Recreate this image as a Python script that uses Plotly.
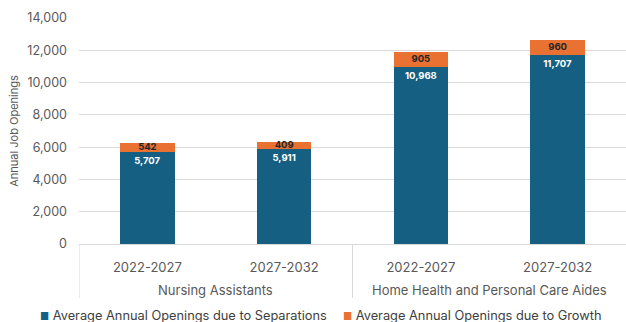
import plotly.graph_objects as go

groups = ["Nursing Assistants", "Nursing Assistants",
          "Home Health and Personal Care Aides", "Home Health and Personal Care Aides"]
periods = ["2022-2027", "2027-2032", "2022-2027", "2027-2032"]
separations = [5707, 5911, 10968, 11707]
growth = [542, 409, 905, 960]
series_names = ["Average Annual Openings due to Separations",
                "Average Annual Openings due to Growth"]

blue = "#156082"
orange = "#E97132"
font_family = "Inter, Lato, sans-serif"
idx = list(range(len(periods)))

fig = go.Figure()
fig.add_trace(go.Bar(
    x=idx, y=separations, name=series_names[0],
    marker=dict(color=blue, line=dict(width=0)),
    text=[f"{v:,}" for v in separations], textposition="inside",
    insidetextanchor="end", constraintext="none",
    textfont=dict(color="white", size=9.5, family=font_family, weight="bold"),
    hoverinfo="skip",
))
fig.add_trace(go.Bar(
    x=idx, y=growth, name=series_names[1],
    marker=dict(color=orange, line=dict(width=0)),
    hoverinfo="skip",
))
fig.add_trace(go.Scatter(
    x=idx, y=[s + g / 2 for s, g in zip(separations, growth)],
    mode="text", text=[f"{v:,}" for v in growth], showlegend=False,
    textfont=dict(color="#262626", size=9.5, family=font_family, weight="bold"),
    hoverinfo="skip",
))

annotations = []
shapes = []
# group labels and dividers
seen = []
for g in groups:
    if g not in seen:
        seen.append(g)
for gi, g in enumerate(seen):
    members = [i for i, gg in enumerate(groups) if gg == g]
    annotations.append(dict(
        x=sum(members) / len(members), xref="x", y=0, yref="paper",
        yanchor="middle", yshift=-46, text=g, showarrow=False,
        font=dict(size=13, color="#595959", family=font_family)))
    shapes.append(dict(
        type="line", xref="x", yref="paper", x0=min(members) - 0.5, x1=min(members) - 0.5,
        ysizemode="pixel", yanchor=0, y0=0, y1=-54,
        line=dict(color="#D9D9D9", width=1)))

# legend (drawn as text with coloured squares)
legend_x = [-0.075, 0.479]
for name, col, lx in zip(series_names, [blue, orange], legend_x):
    annotations.append(dict(
        x=lx, xref="paper", xanchor="left", y=0, yref="paper",
        yanchor="middle", yshift=-71, showarrow=False,
        text=f"<span style='color:{col};font-size:10px'>■</span> {name}",
        font=dict(size=12.8, color="#404040", family=font_family)))

fig.update_layout(
    barmode="stack", bargap=0.6,
    width=626, height=322,
    margin=dict(l=79, r=0, t=18, b=78),
    paper_bgcolor="white", plot_bgcolor="white",
    font=dict(family=font_family, color="#595959", size=12),
    showlegend=False,
    annotations=annotations, shapes=shapes,
)
fig.update_yaxes(range=[0, 14000], dtick=2000, tickformat=",d",
                 gridcolor="#D9D9D9", gridwidth=1, zeroline=False,
                 ticks="", ticklabelstandoff=11,
                 tickfont=dict(size=12.5, color="#595959"),
                 title=dict(text="Annual Job Openings", font=dict(size=11, color="#595959"),
                            standoff=6))
fig.update_xaxes(range=[-0.5, len(periods) - 0.5], tickvals=idx, ticktext=periods,
                 showline=True, linecolor="#D9D9D9", linewidth=1, showgrid=False,
                 zeroline=False, ticks="", ticklabelstandoff=11,
                 tickfont=dict(size=13, color="#595959"))

fig.write_html("out.html")
